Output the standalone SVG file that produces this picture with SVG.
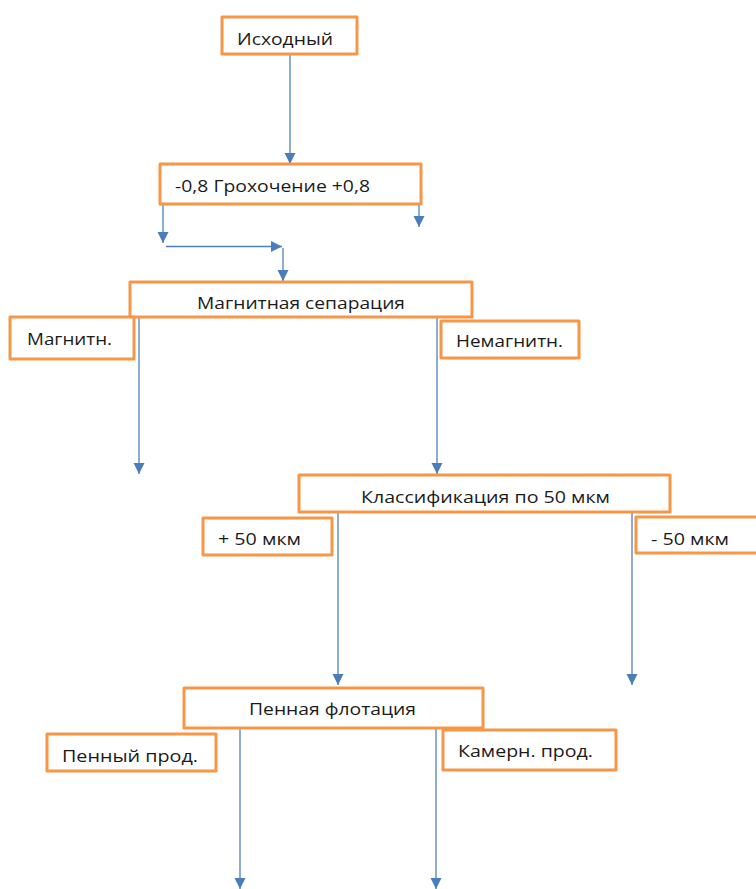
<svg xmlns="http://www.w3.org/2000/svg" width="756" height="889" viewBox="0 0 756 889">
<style>
  .box { fill: #ffffff; stroke: #F79646; stroke-width: 3; stroke-linejoin: round; }
  .lbl { font-family: "Open Sans", "Liberation Sans", sans-serif; font-size: 16.5px; fill: #1b1b1b; }
  .con { stroke: #4F81BD; stroke-width: 1.3; fill: none; marker-end: url(#arr); }
</style>
<defs>
  <marker id="arr" markerUnits="userSpaceOnUse" markerWidth="12" markerHeight="12" refX="11" refY="6" orient="auto">
    <path d="M0,0.5 L11,6 L0,11.5 z" fill="#4A7EBB"/>
  </marker>
</defs>
<rect width="756" height="889" fill="#ffffff"/>

<g id="connectors">
  <line class="con" x1="290" y1="54" x2="290" y2="164"/>
  <line class="con" x1="163" y1="204" x2="163" y2="243"/>
  <line class="con" x1="419" y1="204" x2="419" y2="227"/>
  <line class="con" x1="166" y1="246.5" x2="282" y2="246.5"/>
  <line class="con" x1="283" y1="248" x2="283" y2="281"/>
  <line class="con" x1="139" y1="317" x2="139" y2="474"/>
  <line class="con" x1="437" y1="316" x2="437" y2="474"/>
  <line class="con" x1="338" y1="513" x2="338" y2="685"/>
  <line class="con" x1="632" y1="513" x2="632" y2="685"/>
  <line class="con" x1="240" y1="728" x2="240" y2="889"/>
  <line class="con" x1="436" y1="728" x2="436" y2="889"/>
</g>

<g id="n-ishodny">
  <rect class="box" x="222" y="17" width="135" height="37"/>
  <text class="lbl" x="237" y="45" textLength="96" lengthAdjust="spacingAndGlyphs">Исходный</text>
</g>
<g id="n-grohochenie">
  <rect class="box" x="160" y="164" width="261" height="40"/>
  <text class="lbl" x="175" y="192" textLength="195" lengthAdjust="spacingAndGlyphs">-0,8 Грохочение +0,8</text>
</g>
<g id="n-magsep">
  <rect class="box" x="130" y="282" width="342" height="35"/>
  <text class="lbl" x="197" y="309" textLength="208" lengthAdjust="spacingAndGlyphs">Магнитная сепарация</text>
</g>
<g id="n-magn">
  <rect class="box" x="10" y="317" width="124" height="42"/>
  <text class="lbl" x="27" y="345" textLength="85" lengthAdjust="spacingAndGlyphs">Магнитн.</text>
</g>
<g id="n-nemagn">
  <rect class="box" x="441" y="321" width="138" height="37"/>
  <text class="lbl" x="456" y="347" textLength="107" lengthAdjust="spacingAndGlyphs">Немагнитн.</text>
</g>
<g id="n-klass">
  <rect class="box" x="299" y="475" width="371" height="37"/>
  <text class="lbl" x="361" y="503" textLength="249" lengthAdjust="spacingAndGlyphs">Классификация по 50 мкм</text>
</g>
<g id="n-plus50">
  <rect class="box" x="203" y="518" width="129" height="37"/>
  <text class="lbl" x="218" y="545" textLength="83" lengthAdjust="spacingAndGlyphs">+ 50 мкм</text>
</g>
<g id="n-minus50">
  <rect class="box" x="636" y="517" width="126" height="36"/>
  <text class="lbl" x="651" y="545" textLength="78" lengthAdjust="spacingAndGlyphs">- 50 мкм</text>
</g>
<g id="n-flot">
  <rect class="box" x="184" y="688" width="299" height="40"/>
  <text class="lbl" x="249" y="715" textLength="167" lengthAdjust="spacingAndGlyphs">Пенная флотация</text>
</g>
<g id="n-penny">
  <rect class="box" x="47" y="734" width="169" height="37"/>
  <text class="lbl" x="62" y="762" textLength="136" lengthAdjust="spacingAndGlyphs">Пенный прод.</text>
</g>
<g id="n-kamern">
  <rect class="box" x="443" y="730" width="173" height="40"/>
  <text class="lbl" x="458" y="757" textLength="135" lengthAdjust="spacingAndGlyphs">Камерн. прод.</text>
</g>
</svg>
